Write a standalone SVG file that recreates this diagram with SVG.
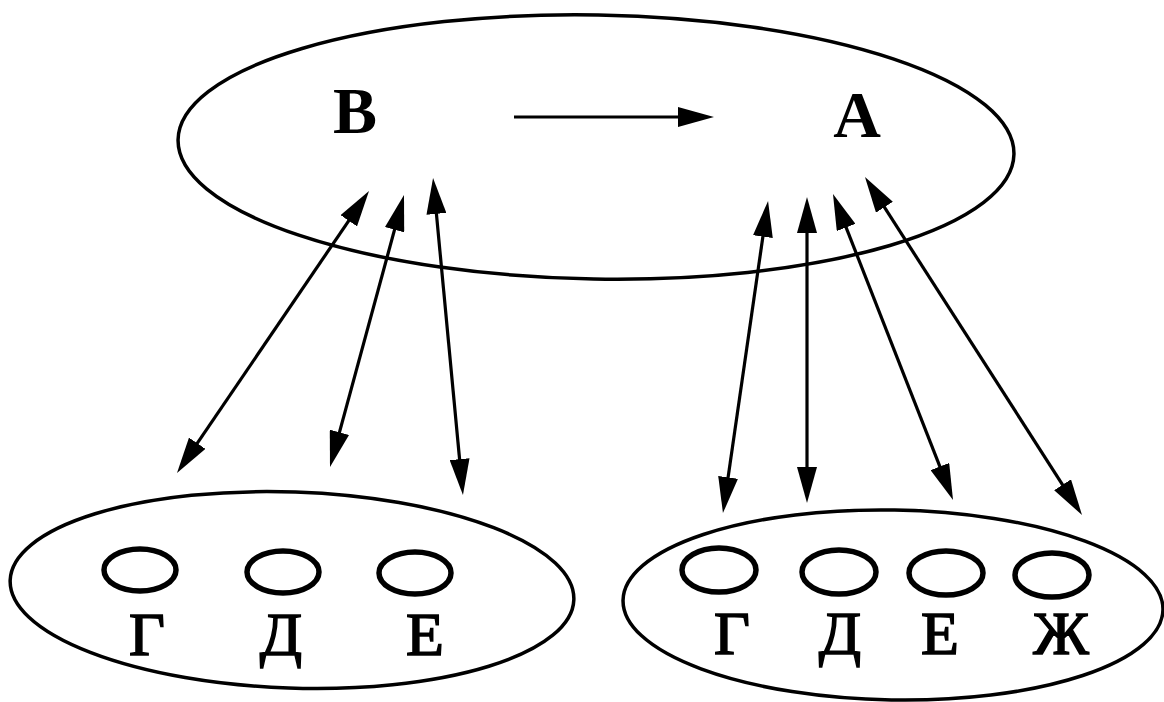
<svg xmlns="http://www.w3.org/2000/svg" width="1164" height="702" viewBox="0 0 1164 702">
  <style>
    .outline { fill: none; stroke: #000; stroke-width: 3.5; }
    .slot { fill: none; stroke: #000; stroke-width: 5.5; }
    .big { font-family: "Liberation Serif", "DejaVu Serif", serif; font-weight: bold; font-size: 66px; text-anchor: middle; fill: #000; }
    .lbl { font-family: "Liberation Serif", "DejaVu Serif", serif; font-weight: normal; font-size: 62px; text-anchor: middle; fill: #000; stroke: #000; stroke-width: 1.6; }
    .link { fill: none; stroke: #000; stroke-width: 3.2; }
  </style>
  <defs>
    <marker id="head" viewBox="0 0 36 20" refX="28" refY="10" markerWidth="36" markerHeight="20" markerUnits="userSpaceOnUse" orient="auto-start-reverse">
      <path d="M0,0 L36,10 L0,20 z" fill="#000"/>
    </marker>
  </defs>
  <rect width="1164" height="702" fill="#fff"/>

  <g id="system">
    <ellipse class="outline" cx="596" cy="147" rx="418" ry="132" transform="rotate(1 596 147)"/>
    <text class="big" x="355" y="133">B</text>
    <text class="big" x="857" y="137">A</text>
  </g>

  <g id="group-left">
    <ellipse class="outline" cx="292" cy="590" rx="282" ry="98" transform="rotate(2 292 590)"/>
    <ellipse class="slot" cx="140" cy="570" rx="36" ry="21"/>
    <ellipse class="slot" cx="283" cy="572" rx="36" ry="21"/>
    <ellipse class="slot" cx="415" cy="573" rx="36" ry="21"/>
    <text class="lbl" x="147" y="655">Г</text>
    <text class="lbl" x="281" y="655">Д</text>
    <text class="lbl" x="425" y="655">Е</text>
  </g>

  <g id="group-right">
    <ellipse class="outline" cx="893" cy="605" rx="270" ry="95" transform="rotate(1 893 605)"/>
    <ellipse class="slot" cx="719" cy="570" rx="37" ry="22"/>
    <ellipse class="slot" cx="839" cy="572" rx="37" ry="22"/>
    <ellipse class="slot" cx="946" cy="573" rx="37" ry="22"/>
    <ellipse class="slot" cx="1052" cy="575" rx="37" ry="22"/>
    <text class="lbl" x="732" y="654">Г</text>
    <text class="lbl" x="840" y="654">Д</text>
    <text class="lbl" x="940" y="654">Е</text>
    <text class="lbl" x="1061" y="654">Ж</text>
  </g>

  <g id="connectors">
    <line class="link" x1="514" y1="117" x2="706" y2="117" marker-end="url(#head)"/>
    <line class="link" x1="364.5" y1="197.6" x2="181.5" y2="466.4" marker-start="url(#head)" marker-end="url(#head)"/>
    <line class="link" x1="401.9" y1="202.7" x2="332.1" y2="459.3" marker-start="url(#head)" marker-end="url(#head)"/>
    <line class="link" x1="433.8" y1="186" x2="462.2" y2="487" marker-start="url(#head)" marker-end="url(#head)"/>
    <line class="link" x1="766.9" y1="208.9" x2="724.1" y2="505.1" marker-start="url(#head)" marker-end="url(#head)"/>
    <line class="link" x1="807" y1="205" x2="807" y2="495" marker-start="url(#head)" marker-end="url(#head)"/>
    <line class="link" x1="835.9" y1="201.4" x2="950.1" y2="492.6" marker-start="url(#head)" marker-end="url(#head)"/>
    <line class="link" x1="869.3" y1="183.7" x2="1077.7" y2="508.3" marker-start="url(#head)" marker-end="url(#head)"/>
  </g>
</svg>
